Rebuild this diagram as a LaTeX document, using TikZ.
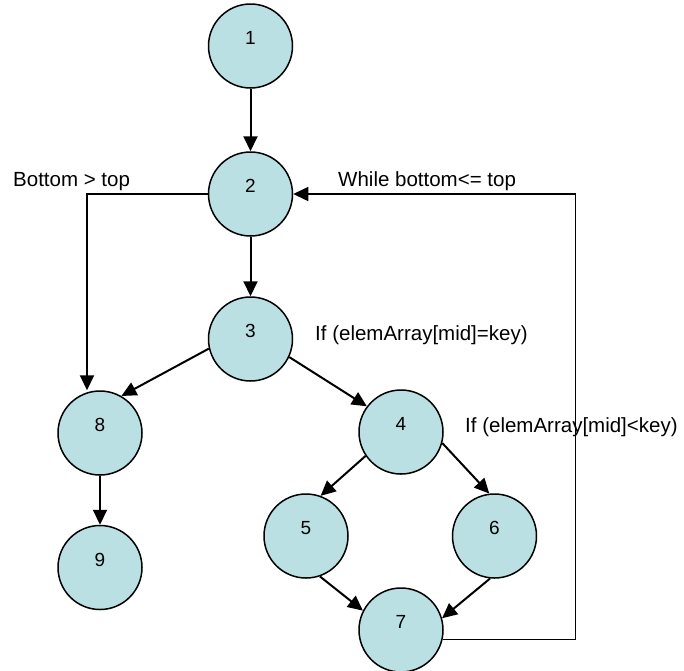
\documentclass[tikz,border=0pt]{standalone}
\usepackage{fontspec}
\setmainfont{Liberation Sans}
\usepackage{tikz}
\usetikzlibrary{arrows.meta,positioning}
\definecolor{nodeblue}{RGB}{187,224,227}
\tikzset{
  bubble/.style={draw, circle, line width=1.5pt, fill=nodeblue, minimum size=84pt, inner sep=0pt, text depth=16pt, font=\fontsize{19}{22}\selectfont},
  condlabel/.style={anchor=base west, inner sep=0pt, font=\fontsize{20.5}{24}\selectfont},
  arrow/.style={-{Triangle[length=15pt, width=14pt]}, line width=2pt},
  backline/.style={-{Triangle[length=15pt, width=14pt]}, line width=1.5pt}
}
\begin{document}
\begin{tikzpicture}[on grid, x=1pt, y=1pt]
  \useasboundingbox (0,0) rectangle (684,-670);
  \node[bubble] (n1) at (250.5,-46) {1};
  \node[bubble, below=148pt of n1] (n2) {2};
  \node[bubble, below=145pt of n2] (n3) {3};
  \node[bubble, below left=94pt and 150.5pt of n3] (n8) {8};
  \node[bubble, below right=93pt and 150.5pt of n3] (n4) {4};
  \node[bubble, below left=104pt and 95pt of n4] (n5) {5};
  \node[bubble, below right=104pt and 93.5pt of n4] (n6) {6};
  \node[bubble, below=198pt of n4] (n7) {7};
  \node[bubble, below=134.5pt of n8] (n9) {9};

  % conditions
  \node[condlabel] (lbottom) at (13,-186) {Bottom > top};
  \node[condlabel] (lwhile) at (338,-186) {While bottom<= top};
  \node[condlabel] (lequal) at (315,-340) {If (elemArray[mid]=key)};

  \draw[arrow] (n1) -- (n2);
  \draw[arrow] (n2) -- (n3);
  \draw[arrow] (n2.west) -| ([xshift=-13pt]n8.north);
  \draw[arrow] (n3.193) -- (n8.60);
  \draw[arrow] (n3.-25) -- (n4.143);
  \draw[arrow] (n8) -- (n9);
  \draw[arrow] (n4.214) -- (n5.70);
  \draw[arrow] (n4.-15) -- (n6.97);
  \draw[arrow] (n5.-71) -- (n7.153);
  \draw[arrow] (n6.-96) -- (n7.16);
  \draw[backline] (n7.-13) -- ++(133pt,0) |- (n2.east);

  \node[condlabel] (lless) at (465,-432) {If (elemArray[mid]<key)};
\end{tikzpicture}
\end{document}
